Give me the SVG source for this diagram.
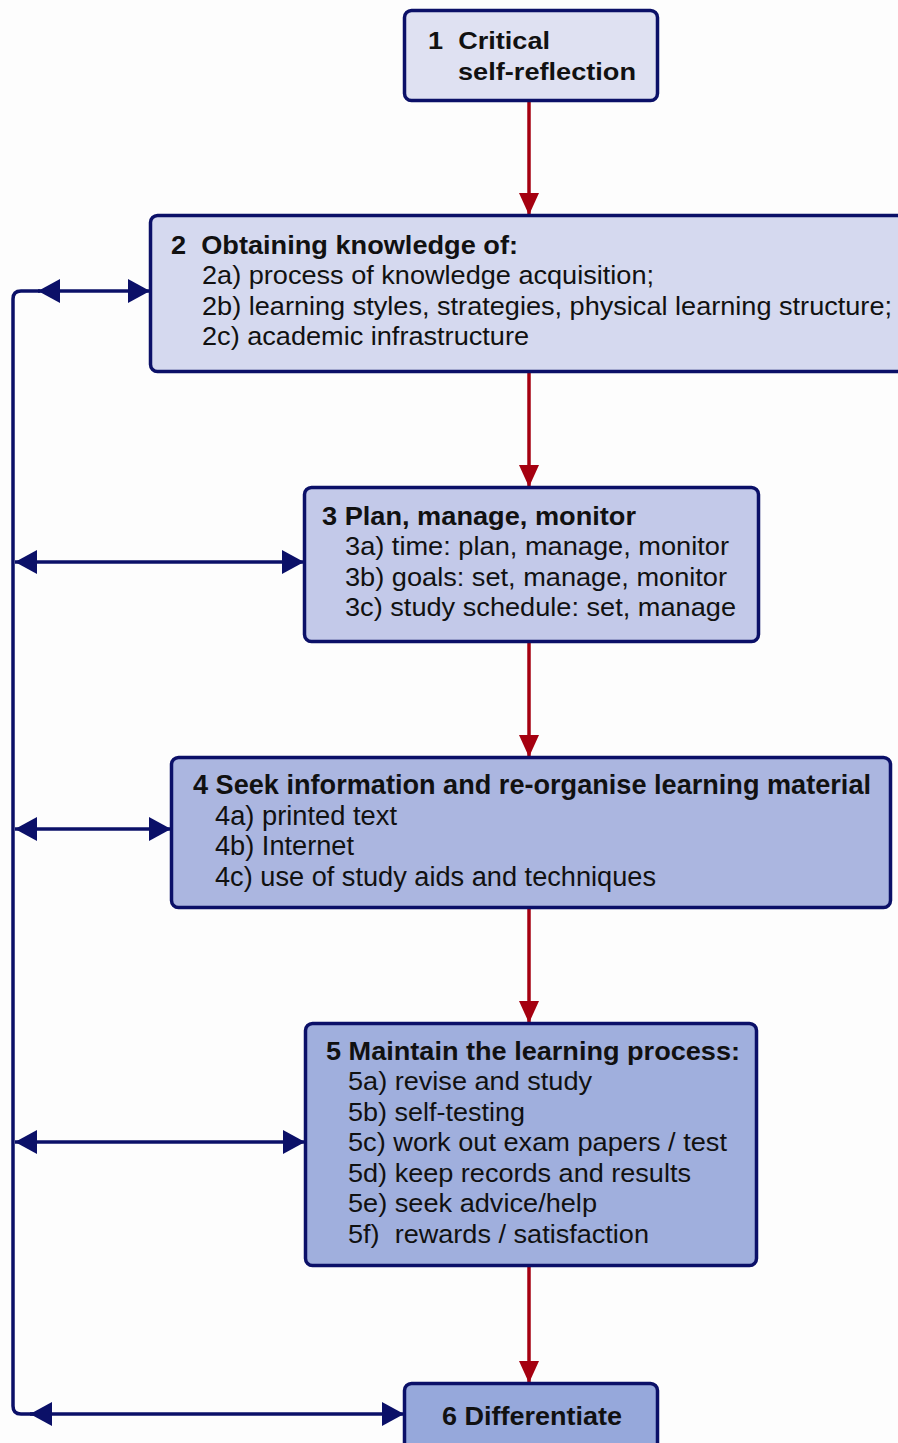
<svg xmlns="http://www.w3.org/2000/svg" width="898" height="1443" viewBox="0 0 898 1443">
  <style>
    .box { stroke: #0b1068; stroke-width: 3.5; }
    .t { font-family: "Liberation Sans", Arial, sans-serif; font-size: 25px; fill: #111; white-space: pre; }
    .s { font-size: 24px; }
    .n { font-size: 27px; }
    .b { font-weight: bold; }
    .flow { stroke: #a50010; stroke-width: 3.5; fill: none; }
    .side { stroke: #0b1068; stroke-width: 3.5; fill: none; }
  </style>
  <defs>
    <marker id="redHead" viewBox="0 0 22 20" refX="22" refY="10" markerWidth="22" markerHeight="20" markerUnits="userSpaceOnUse" orient="auto">
      <path d="M0,0 L22,10 L0,20 Z" fill="#a50010"/>
    </marker>
    <marker id="navyHead" viewBox="0 0 22 24" refX="22" refY="12" markerWidth="22" markerHeight="24" markerUnits="userSpaceOnUse" orient="auto-start-reverse">
      <path d="M0,0 L22,12 L0,24 Z" fill="#0b1068"/>
    </marker>
  </defs>

  <rect width="898" height="1443" fill="#fdfdfd"/>

  <!-- connectors -->
  <g id="connectors">
    <line class="flow" x1="529" y1="100" x2="529" y2="215" marker-end="url(#redHead)"/>
    <line class="flow" x1="529" y1="372" x2="529" y2="487" marker-end="url(#redHead)"/>
    <line class="flow" x1="529" y1="642" x2="529" y2="757" marker-end="url(#redHead)"/>
    <line class="flow" x1="529" y1="908" x2="529" y2="1023" marker-end="url(#redHead)"/>
    <line class="flow" x1="529" y1="1266" x2="529" y2="1383" marker-end="url(#redHead)"/>

    <!-- feedback rail on the left -->
    <path class="side" d="M40,291 L21,291 Q13,291 13,299 L13,1406 Q13,1414 21,1414 L38,1414"/>
    <line class="side" x1="38" y1="291" x2="150" y2="291" marker-start="url(#navyHead)" marker-end="url(#navyHead)"/>
    <line class="side" x1="15" y1="562" x2="304" y2="562" marker-start="url(#navyHead)" marker-end="url(#navyHead)"/>
    <line class="side" x1="15" y1="829" x2="171" y2="829" marker-start="url(#navyHead)" marker-end="url(#navyHead)"/>
    <line class="side" x1="15" y1="1142" x2="305" y2="1142" marker-start="url(#navyHead)" marker-end="url(#navyHead)"/>
    <line class="side" x1="30" y1="1414" x2="404" y2="1414" marker-start="url(#navyHead)" marker-end="url(#navyHead)"/>
  </g>

  <g id="node1">
    <rect class="box" x="404.5" y="10.5" width="253" height="90" rx="7" fill="#dfe1f2"/>
    <text class="t s b" x="428" y="49" textLength="122" lengthAdjust="spacingAndGlyphs">1  Critical</text>
    <text class="t s b" x="458" y="80" textLength="178" lengthAdjust="spacingAndGlyphs">self-reflection</text>
  </g>

  <g id="node2">
    <rect class="box" x="150.5" y="215.5" width="760" height="156" rx="7" fill="#d5d9ef"/>
    <text class="t b" x="171" y="254" textLength="347" lengthAdjust="spacingAndGlyphs">2  Obtaining knowledge of:</text>
    <text class="t" x="202" y="284" textLength="452" lengthAdjust="spacingAndGlyphs">2a) process of knowledge acquisition;</text>
    <text class="t" x="202" y="315" textLength="690" lengthAdjust="spacingAndGlyphs">2b) learning styles, strategies, physical learning structure;</text>
    <text class="t" x="202" y="345" textLength="327" lengthAdjust="spacingAndGlyphs">2c) academic infrastructure</text>
  </g>

  <g id="node3">
    <rect class="box" x="304.5" y="487.5" width="454" height="154" rx="7" fill="#c3c9e9"/>
    <text class="t b" x="322" y="525" textLength="314" lengthAdjust="spacingAndGlyphs">3 Plan, manage, monitor</text>
    <text class="t" x="345" y="555" textLength="384" lengthAdjust="spacingAndGlyphs">3a) time: plan, manage, monitor</text>
    <text class="t" x="345" y="586" textLength="382" lengthAdjust="spacingAndGlyphs">3b) goals: set, manage, monitor</text>
    <text class="t" x="345" y="616" textLength="391" lengthAdjust="spacingAndGlyphs">3c) study schedule: set, manage</text>
  </g>

  <g id="node4">
    <rect class="box" x="171.5" y="757.5" width="719" height="150" rx="7" fill="#abb6e0"/>
    <text class="t n b" x="193" y="794" textLength="678" lengthAdjust="spacingAndGlyphs">4 Seek information and re-organise learning material</text>
    <text class="t n" x="215" y="825" textLength="182" lengthAdjust="spacingAndGlyphs">4a) printed text</text>
    <text class="t n" x="215" y="855" textLength="139" lengthAdjust="spacingAndGlyphs">4b) Internet</text>
    <text class="t n" x="215" y="886" textLength="441" lengthAdjust="spacingAndGlyphs">4c) use of study aids and techniques</text>
  </g>

  <g id="node5">
    <rect class="box" x="305.5" y="1023.5" width="451" height="242" rx="7" fill="#a0afdd"/>
    <text class="t b" x="326" y="1060" textLength="414" lengthAdjust="spacingAndGlyphs">5 Maintain the learning process:</text>
    <text class="t" x="348" y="1090" textLength="244" lengthAdjust="spacingAndGlyphs">5a) revise and study</text>
    <text class="t" x="348" y="1121" textLength="177" lengthAdjust="spacingAndGlyphs">5b) self-testing</text>
    <text class="t" x="348" y="1151" textLength="379" lengthAdjust="spacingAndGlyphs">5c) work out exam papers / test</text>
    <text class="t" x="348" y="1182" textLength="343" lengthAdjust="spacingAndGlyphs">5d) keep records and results</text>
    <text class="t" x="348" y="1212" textLength="249" lengthAdjust="spacingAndGlyphs">5e) seek advice/help</text>
    <text class="t" x="348" y="1243" textLength="301" lengthAdjust="spacingAndGlyphs">5f)  rewards / satisfaction</text>
  </g>

  <g id="node6">
    <rect class="box" x="404.5" y="1383.5" width="253" height="80" rx="7" fill="#96a8db"/>
    <text class="t b" x="442" y="1425" textLength="180" lengthAdjust="spacingAndGlyphs">6 Differentiate</text>
  </g>
</svg>
